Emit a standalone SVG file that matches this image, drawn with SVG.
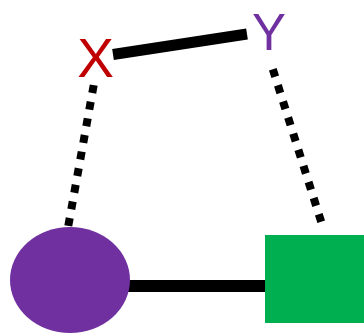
<svg xmlns="http://www.w3.org/2000/svg" width="364" height="333" viewBox="0 0 364 333">
<style>
.solid{stroke:#000;stroke-linecap:butt;fill:none}
.dot{stroke:#000;stroke-width:8;stroke-linecap:butt;fill:none}
.lbl{font-family:"Liberation Sans",Arial,sans-serif;text-anchor:middle}
</style>
<rect width="364" height="333" fill="#fff"/>
<g id="connectors">
<line class="solid" x1="113" y1="54.5" x2="247" y2="34" stroke-width="11"/>
<line class="solid" x1="126" y1="286" x2="266" y2="286" stroke-width="12"/>
<line class="dot" x1="93.7" y1="85.1" x2="68.3" y2="225.9" stroke-dasharray="8 8.89"/>
<line class="dot" x1="272.8" y1="69.2" x2="321.2" y2="221.8" stroke-dasharray="8 8.9"/>
</g>
<g id="nodeX"><text class="lbl" x="95.5" y="77" font-size="55" fill="#c00000">X</text></g>
<g id="nodeY"><text class="lbl" x="269" y="50" font-size="51" fill="#7030a0">Y</text></g>
<g id="circle"><ellipse cx="70" cy="280" rx="60" ry="53" fill="#7030a0"/></g>
<g id="square"><rect x="265" y="235" width="99" height="88" fill="#00b050"/></g>
</svg>
